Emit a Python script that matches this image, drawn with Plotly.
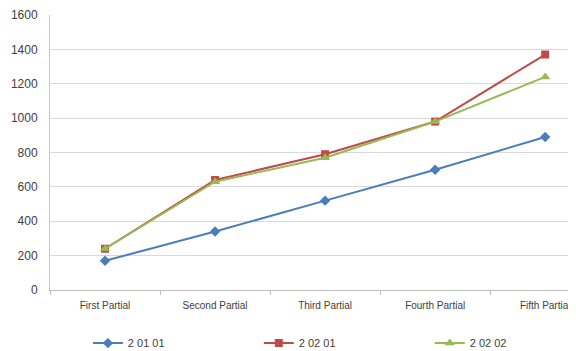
import plotly.graph_objects as go

categories = ["First Partial", "Second Partial", "Third Partial", "Fourth Partial", "Fifth Partial"]
s1_name = "2 01 01"
s1_values = [170, 340, 520, 700, 890]
s2_name = "2 02 01"
s2_values = [240, 640, 790, 980, 1370]
s3_name = "2 02 02"
s3_values = [240, 630, 770, 980, 1240]
y_ticks = [0, 200, 400, 600, 800, 1000, 1200, 1400, 1600]

fig = go.Figure()
fig.add_trace(go.Scatter(x=categories, y=s1_values, name=s1_name, mode="lines+markers",
                         line=dict(color="#4A7EBB", width=2), legend="legend",
                         marker=dict(symbol="diamond", size=8, color="#4A7EBB")))
fig.add_trace(go.Scatter(x=categories, y=s2_values, name=s2_name, mode="lines+markers",
                         line=dict(color="#BE4B48", width=2), legend="legend2",
                         marker=dict(symbol="square", size=8, color="#BE4B48")))
fig.add_trace(go.Scatter(x=categories, y=s3_values, name=s3_name, mode="lines+markers",
                         line=dict(color="#98B954", width=2), legend="legend3",
                         marker=dict(symbol="triangle-up", size=9, color="#98B954")))

leg_common = dict(orientation="h", y=-0.193, xanchor="left", yanchor="middle",
                  itemwidth=30, bgcolor="rgba(0,0,0,0)",
                  font=dict(size=11, color="#404040"))

fig.update_layout(
    width=568, height=343,
    margin=dict(l=42, r=0, t=7, b=61, autoexpand=False),
    paper_bgcolor="white", plot_bgcolor="white",
    font=dict(family="Liberation Sans, Arial, sans-serif", size=10, color="#404040"),
    showlegend=True,
    legend=dict(x=0.072, **leg_common),
    legend2=dict(x=0.397, **leg_common),
    legend3=dict(x=0.722, **leg_common),
    xaxis=dict(range=[-0.5, 4.28], showgrid=False, showline=True, linecolor="#BFBFBF",
               ticks="outside", ticklen=4, tickcolor="#BFBFBF", tickson="boundaries",
               automargin=False, ticklabelstandoff=6,
               tickfont=dict(size=10, color="#404040"), fixedrange=True),
    yaxis=dict(range=[0, 1600], tickvals=y_ticks, showgrid=True, gridcolor="#D9D9D9",
               showline=True, linecolor="#B9CDE5", zeroline=False, ticks="",
               automargin=False, ticklabelstandoff=9,
               tickfont=dict(size=12, color="#404040"), fixedrange=True),
)

fig.write_html("out.html")
